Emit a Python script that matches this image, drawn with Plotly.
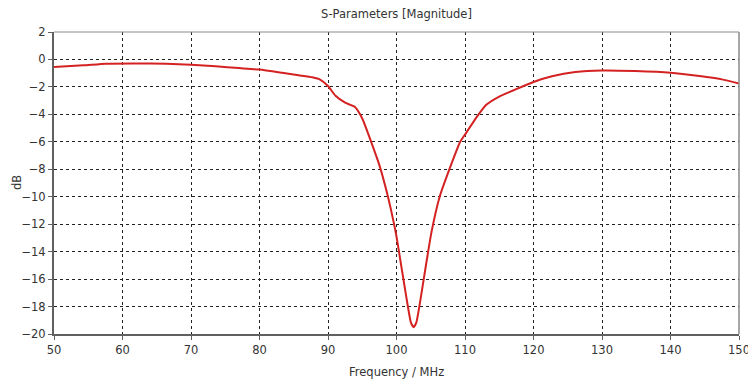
import plotly.graph_objects as go

freq_mhz = [50, 54.3, 57.6, 61.5, 66.4, 70, 73.6, 77, 80, 83.3, 85.7, 87.7, 88.9, 90,
            91.1, 92.5, 93.9, 95, 96.3, 97.5, 98.6, 99.5, 100, 100.7, 101.4, 102.1,
            102.5, 102.9, 103.5, 104.2, 105.1, 106.3, 107.8, 109.3, 110.1, 111.7,
            113.1, 115, 117.3, 120, 122.7, 126.1, 130, 134.8, 140, 144.5, 147.5, 150]
s11_db = [-0.55, -0.43, -0.31, -0.29, -0.31, -0.39, -0.5, -0.63, -0.74, -0.97, -1.15,
          -1.3, -1.48, -1.93, -2.65, -3.15, -3.45, -4.3, -6.0, -7.7, -9.7, -11.65,
          -12.9, -15.05, -17.2, -19.15, -19.5, -19.15, -17.5, -15.3, -12.6, -10.0,
          -7.9, -6.0, -5.4, -4.2, -3.3, -2.7, -2.2, -1.64, -1.23, -0.92, -0.8, -0.84,
          -0.96, -1.23, -1.45, -1.76]

x_ticks = [50, 60, 70, 80, 90, 100, 110, 120, 130, 140, 150]
y_ticks = [2, 0, -2, -4, -6, -8, -10, -12, -14, -16, -18, -20]

font_family = "DejaVu Sans, sans-serif"
txt_color = "#333333"

fig = go.Figure()
fig.add_trace(go.Scatter(x=freq_mhz, y=s11_db, mode="lines",
                         line=dict(color="#d42222", width=2, shape="spline", smoothing=0.5),
                         hoverinfo="skip", showlegend=False))

axis_common = dict(
    showgrid=True, gridcolor="#222222", gridwidth=1, griddash="dot",
    showline=True, linecolor="#606060", linewidth=2,
    ticks="outside", ticklen=4, tickcolor="#606060", tickwidth=1,
    zeroline=False, automargin=False,
    tickfont=dict(family=font_family, size=11.5, color=txt_color),
)

# page body has an 8px default margin, so the figure is sized to fit the window
fig.update_layout(
    width=748, height=373,
    margin=dict(l=46, r=17, t=24, b=47),
    paper_bgcolor="white", plot_bgcolor="white",
    title=dict(text="S-Parameters [Magnitude]", x=0.5, xref="paper", xanchor="center",
               y=1 - 6 / 373, yanchor="middle",
               font=dict(family=font_family, size=11.5, color=txt_color)),
    xaxis=dict(range=[50, 150], tickvals=x_ticks, **axis_common),
    yaxis=dict(range=[-20, 2], tickvals=y_ticks, **axis_common),
    annotations=[
        dict(text="Frequency / MHz", xref="paper", yref="paper", x=0.5, y=0,
             yshift=-38, xanchor="center", yanchor="middle", showarrow=False,
             font=dict(family=font_family, size=11.5, color=txt_color)),
        dict(text="dB", xref="paper", yref="paper", x=0, y=0.5, xshift=-37,
             xanchor="center", yanchor="middle", textangle=-90, showarrow=False,
             font=dict(family=font_family, size=11.5, color=txt_color)),
    ],
    shapes=[
        dict(type="line", xref="paper", yref="paper", x0=0, x1=1, y0=1, y1=1,
             line=dict(color="#8a8a8a", width=1)),
        dict(type="line", xref="paper", yref="paper", x0=1, x1=1, y0=0, y1=1,
             line=dict(color="#8a8a8a", width=1.5)),
    ],
)

fig.write_html("out.html")
